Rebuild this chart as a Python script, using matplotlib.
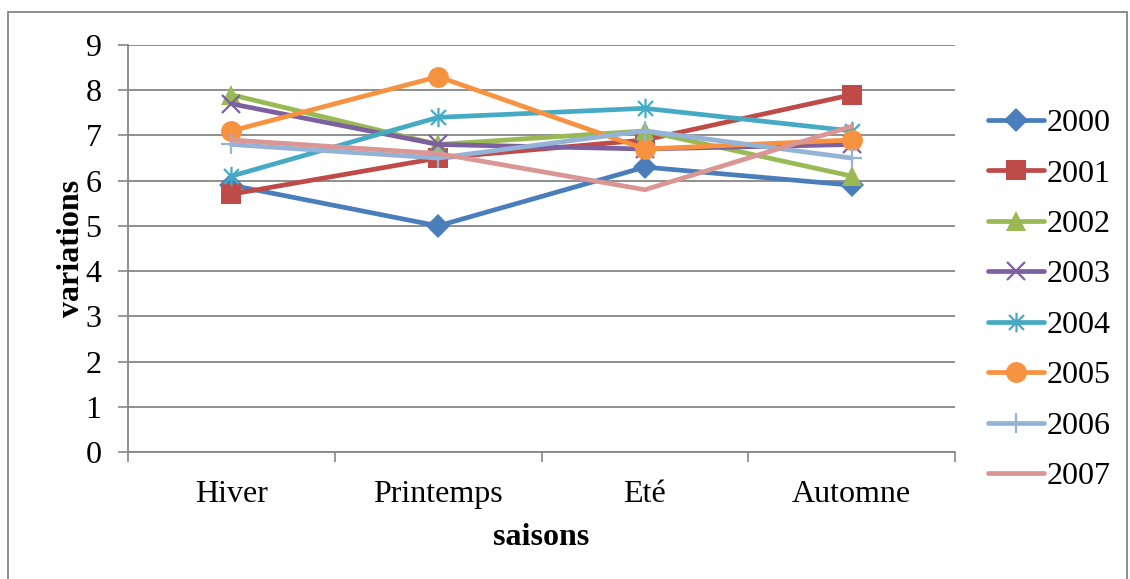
import matplotlib.pyplot as plt
from matplotlib.path import Path
from matplotlib.patches import Rectangle

# Data
saisons = ["Hiver", "Printemps", "Eté", "Automne"]
annees = ["2000", "2001", "2002", "2003", "2004", "2005", "2006", "2007"]
v2000 = [5.9, 5.0, 6.3, 5.9]
v2001 = [5.7, 6.5, 6.9, 7.9]
v2002 = [7.9, 6.8, 7.1, 6.1]
v2003 = [7.7, 6.8, 6.7, 6.8]
v2004 = [6.1, 7.4, 7.6, 7.1]
v2005 = [7.1, 8.3, 6.7, 6.9]
v2006 = [6.8, 6.5, 7.1, 6.5]
v2007 = [6.9, 6.6, 5.8, 7.2]
series = [v2000, v2001, v2002, v2003, v2004, v2005, v2006, v2007]
yticks = list(range(0, 10))

colors = ["#4A7EBB", "#BE4B48", "#98B954", "#7D60A0",
          "#46AAC5", "#F69240", "#95B3D7", "#D99694"]

# Excel-style asterisk: an x plus a vertical bar
star = Path([(-1, -1), (1, 1), (-1, 1), (1, -1), (0, -1.3), (0, 1.3)],
            [Path.MOVETO, Path.LINETO, Path.MOVETO, Path.LINETO,
             Path.MOVETO, Path.LINETO])

styles = [
    dict(marker="D", markersize=12, markeredgewidth=0),
    dict(marker="s", markersize=14, markeredgewidth=0),
    dict(marker="^", markersize=15, markeredgewidth=0),
    dict(marker="x", markersize=13, markeredgewidth=1.6),
    dict(marker=star, markersize=14, markeredgewidth=1.6),
    dict(marker="o", markersize=15, markeredgewidth=0),
    dict(marker="+", markersize=14, markeredgewidth=1.6),
    dict(marker=None),
]

plt.rcParams["font.family"] = ["Liberation Serif", "DejaVu Serif"]
plt.rcParams["font.size"] = 23

fig = plt.figure(figsize=(11.3, 5.79), dpi=100)
ax = fig.add_axes([128 / 1130, 1 - 452 / 579, (955 - 128) / 1130, (452 - 45) / 579])

x = list(range(len(saisons)))
for vals, lab, col, st in zip(series, annees, colors, styles):
    ax.plot(x, vals, color=col, linewidth=3.4, label=lab,
            markerfacecolor=col, markeredgecolor=col,
            solid_capstyle="round", **st)

ax.set_xlim(-0.5, len(saisons) - 0.5)
ax.set_ylim(0, 9)
ax.set_yticks(yticks)
ax.set_xticks(x)
ax.set_xticklabels(saisons)
ax.set_xticks([i - 0.5 for i in range(len(saisons) + 1)], minor=True)
ax.tick_params(axis="x", which="major", length=0, pad=20)
ax.tick_params(axis="x", which="minor", length=7, width=1.2, color="#868686")
ax.tick_params(axis="y", length=7, width=1.2, color="#868686", pad=12)

ax.grid(axis="y", color="#868686", linewidth=1.3)
ax.set_axisbelow(True)
for side in ["top", "right"]:
    ax.spines[side].set_visible(False)
for side in ["left", "bottom"]:
    ax.spines[side].set_color("#868686")
    ax.spines[side].set_linewidth(1.3)

ax.set_xlabel("saisons", fontweight="bold", labelpad=10)
ax.set_ylabel("variations", fontweight="bold", labelpad=0)

fig.legend(loc="center left", bbox_to_anchor=(975 / 1130, 1 - 300 / 579),
           frameon=False, handlelength=1.75, handletextpad=0.1,
           labelspacing=0.66, borderaxespad=0)

# thin grey frame around the chart
fig.patches.append(Rectangle((8 / 1130, -0.02), 1119 / 1130, 1.02 - 12 / 579,
                             transform=fig.transFigure, fill=False,
                             edgecolor="#868686", linewidth=1.3))

fig.savefig("out.png", dpi=100)
